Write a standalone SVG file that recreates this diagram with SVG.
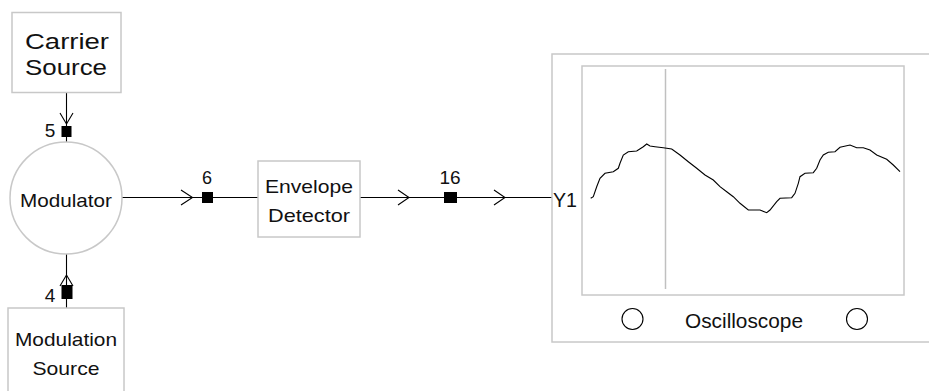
<svg xmlns="http://www.w3.org/2000/svg" width="929" height="391" viewBox="0 0 929 391">
<style>
.box{fill:#fff;stroke:#c8c8c8;stroke-width:1.5}
.wire{stroke:#000;stroke-width:1.1;fill:none}
.arr{stroke:#000;stroke-width:1.1;fill:none}
.jn{fill:#000}
text{font-family:"Liberation Sans",Arial,sans-serif;fill:#111}
.t{text-anchor:middle}
</style>
<rect width="929" height="391" fill="#fff"/>
<g id="connectors">
  <line class="wire" x1="66.5" y1="93" x2="66.5" y2="142"/>
  <polyline class="arr" points="60,113 66.5,124 73,113"/>
  <rect class="jn" x="61.5" y="126" width="10" height="11"/>
  <line class="wire" x1="66.5" y1="254" x2="66.5" y2="308"/>
  <polyline class="arr" points="60,286 66.5,275 73,286"/>
  <rect class="jn" x="61.5" y="285" width="11" height="14"/>
  <line class="wire" x1="122" y1="197.5" x2="258" y2="197.5"/>
  <polyline class="arr" points="181,190 192.5,197.5 181,205"/>
  <rect class="jn" x="202" y="192" width="11" height="11"/>
  <line class="wire" x1="360" y1="197.5" x2="553" y2="197.5"/>
  <polyline class="arr" points="398,190 409,197.5 398,205"/>
  <rect class="jn" x="444" y="192" width="13" height="11"/>
  <polyline class="arr" points="494,190 505,197.5 494,205"/>
</g>
<g id="carrier-source">
  <rect class="box" x="12" y="12.5" width="109" height="80"/>
  <text class="t" x="67" y="49" font-size="22" textLength="84" lengthAdjust="spacingAndGlyphs">Carrier</text>
  <text class="t" x="66" y="75" font-size="22" textLength="82" lengthAdjust="spacingAndGlyphs">Source</text>
</g>
<g id="label-5"><text class="t" x="50" y="137" font-size="19">5</text></g>
<g id="modulator">
  <circle cx="66" cy="198" r="56" fill="#fff" stroke="#c8c8c8" stroke-width="1.5"/>
  <text class="t" x="66" y="207" font-size="19" textLength="92" lengthAdjust="spacingAndGlyphs">Modulator</text>
</g>
<g id="label-4"><text class="t" x="50" y="302" font-size="19">4</text></g>
<g id="modulation-source">
  <rect class="box" x="8" y="308" width="116" height="100"/>
  <text class="t" x="66" y="346" font-size="19" textLength="102" lengthAdjust="spacingAndGlyphs">Modulation</text>
  <text class="t" x="66" y="375" font-size="19" textLength="67" lengthAdjust="spacingAndGlyphs">Source</text>
</g>
<g id="label-6"><text class="t" x="207" y="184" font-size="18">6</text></g>
<g id="envelope-detector">
  <rect class="box" x="258" y="161" width="102" height="76"/>
  <text class="t" x="309" y="193" font-size="19" textLength="88" lengthAdjust="spacingAndGlyphs">Envelope</text>
  <text class="t" x="309" y="222" font-size="19" textLength="82" lengthAdjust="spacingAndGlyphs">Detector</text>
</g>
<g id="label-16"><text class="t" x="450" y="184" font-size="19">16</text></g>
<g id="oscilloscope">
  <rect class="box" x="552" y="54" width="400" height="288"/>
  <rect class="box" x="582" y="66" width="322" height="229"/>
  <line x1="665.5" y1="69" x2="665.5" y2="289" stroke="#c0c0c0" stroke-width="1.5"/>
  <polyline fill="none" stroke="#000" stroke-width="1.1" points="590.7,198.3 593.3,196.7 596.7,186.7 600,178.3 605,173.3 613.3,171.7 618.3,168.3 620,163.3 623.3,155 628.3,151.7 636.7,151 643.3,146.7 646.7,144 650,146 655,146.7 663.3,147.7 671.7,149 680,155 688.3,161.7 696.7,168.3 705,175 713.3,180 720,186.7 726.7,191.7 733.3,196.7 740,203.3 748.3,210 760,210 766.7,212.7 770,210 776.7,201.7 780,198.3 791.7,197.7 795,193.3 798.3,183.3 800,176.7 805,173.3 813.3,172.7 816.7,168.3 820,160 823.3,155 828.3,152.3 835,151.7 840,147.3 850,145 856.7,147.7 863.3,147.7 870,150 876.7,155 886.7,159.3 893.3,165 900,171.7"/>
  <text x="553" y="207" font-size="21" textLength="24" lengthAdjust="spacingAndGlyphs">Y1</text>
  <circle cx="632.5" cy="319" r="10.5" fill="none" stroke="#000" stroke-width="1.1"/>
  <circle cx="857" cy="319" r="10.5" fill="none" stroke="#000" stroke-width="1.1"/>
  <text class="t" x="744" y="328" font-size="21" textLength="118" lengthAdjust="spacingAndGlyphs">Oscilloscope</text>
</g>
</svg>
